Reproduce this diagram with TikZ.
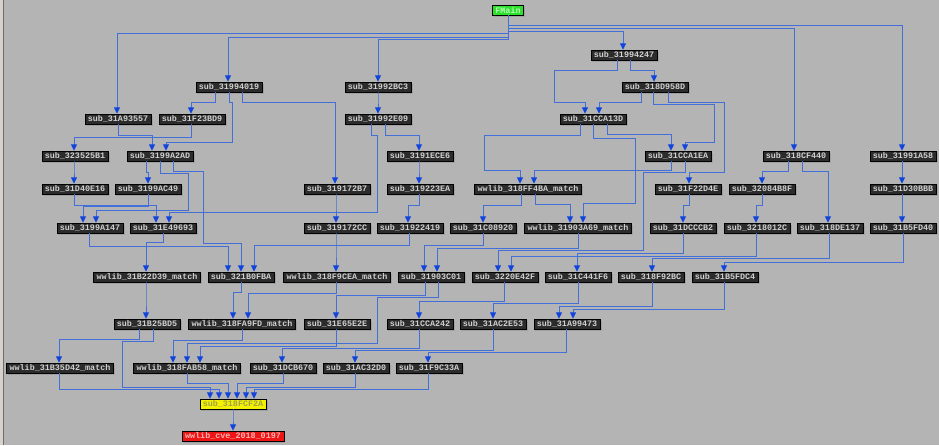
\documentclass[tikz,border=0pt]{standalone}
\usepackage{fontspec}
\setmonofont{Liberation Mono}
\usepackage{xcolor}
\usetikzlibrary{arrows.meta,shadows}

\definecolor{canvas}{HTML}{B4B4B4}
\definecolor{frameside}{HTML}{D6D2CA}
\definecolor{frameline}{HTML}{6E6E6E}
\definecolor{boxfill}{HTML}{2C2C2C}
\definecolor{boxtext}{HTML}{D0D0D0}
\definecolor{wire}{HTML}{4270D8}
\definecolor{tip}{HTML}{1244DC}
\definecolor{mainfill}{HTML}{2EE02E}
\definecolor{maintext}{HTML}{B0FFB0}
\definecolor{sinkfill}{HTML}{F2F200}
\definecolor{sinktext}{HTML}{A0A050}
\definecolor{cvefill}{HTML}{EE1515}
\definecolor{cvetext}{HTML}{FFB4B4}

% edge: source, exit x, channel y, entry x, target
\newcommand{\callto}[5]{\draw[arrow] (#1.south -| #2,0) |- (#4,#3) -- (#5.north -| #4,0);}
% edge with one extra bend
\newcommand{\callvia}[7]{\draw[arrow] (#1.south -| #2,0) |- (#4,#3) |- (#6,#5) -- (#7.north -| #6,0);}

\begin{document}
\begin{tikzpicture}[
x=1pt, y=-1pt,
fn/.style={draw=black, line width=0.5pt, fill=boxfill, text=boxtext, font=\ttfamily\bfseries\fontsize{8.4}{9}\selectfont, inner xsep=3pt, inner ysep=0pt, minimum height=10pt, drop shadow={shadow xshift=1.5pt, shadow yshift=-1.5pt, opacity=0.35}},
arrow/.style={-{Triangle[length=6.5pt,width=6pt,color=tip]}, wire, line width=1pt}
]
\useasboundingbox (0,0) rectangle (939,445);
\fill[canvas] (0,0) rectangle (939,445);
\fill[frameside] (0,0) rectangle (3,445);
\draw[frameline, line width=1pt] (3.5,0) -- (3.5,445);

% nodes, row by row
\node[fn, fill=mainfill, text=maintext] (fmain) at (508,10) {FMain};

\node[fn] (s31994247) at (624,55) {sub\_31994247};

\node[fn] (s31994019) at (229,87) {sub\_31994019};
\node[fn] (s31992BC3) at (378,87) {sub\_31992BC3};
\node[fn] (s318D958D) at (655,87) {sub\_318D958D};

\node[fn] (s31A93557) at (118,119) {sub\_31A93557};
\node[fn] (s31F23BD9) at (192,119) {sub\_31F23BD9};
\node[fn] (s31992E09) at (378,119) {sub\_31992E09};
\node[fn] (s31CCA13D) at (593,119) {sub\_31CCA13D};

\node[fn] (s323525B1) at (75,156) {sub\_323525B1};
\node[fn] (s3199A2AD) at (160,156) {sub\_3199A2AD};
\node[fn] (s3191ECE6) at (420,156) {sub\_3191ECE6};
\node[fn] (s31CCA1EA) at (678,156) {sub\_31CCA1EA};
\node[fn] (s318CF440) at (796,156) {sub\_318CF440};
\node[fn] (s31991A58) at (903,156) {sub\_31991A58};

\node[fn] (s31D40E16) at (75,189) {sub\_31D40E16};
\node[fn] (s3199AC49) at (148,189) {sub\_3199AC49};
\node[fn] (s319172B7) at (337,189) {sub\_319172B7};
\node[fn] (s319223EA) at (420,189) {sub\_319223EA};
\node[fn] (w318FF4BA) at (528,189) {wwlib\_318FF4BA\_match};
\node[fn] (s31F22D4E) at (688,189) {sub\_31F22D4E};
\node[fn] (s32084B8F) at (762,189) {sub\_32084B8F};
\node[fn] (s31D30BBB) at (903,189) {sub\_31D30BBB};

\node[fn] (s3199A147) at (90,228) {sub\_3199A147};
\node[fn] (s31E49693) at (163,228) {sub\_31E49693};
\node[fn] (s319172CC) at (337,228) {sub\_319172CC};
\node[fn] (s31922419) at (410,228) {sub\_31922419};
\node[fn] (s31C08920) at (483,228) {sub\_31C08920};
\node[fn] (w31903A69) at (578,228) {wwlib\_31903A69\_match};
\node[fn] (s31DCCCB2) at (683,228) {sub\_31DCCCB2};
\node[fn] (s3218012C) at (757,228) {sub\_3218012C};
\node[fn] (s318DE137) at (830,228) {sub\_318DE137};
\node[fn] (s31B5FD40) at (903,228) {sub\_31B5FD40};

\node[fn] (w31B22D39) at (147,277) {wwlib\_31B22D39\_match};
\node[fn] (s321B0FBA) at (241,277) {sub\_321B0FBA};
\node[fn] (w318F9CEA) at (337,277) {wwlib\_318F9CEA\_match};
\node[fn] (s31903C01) at (431,277) {sub\_31903C01};
\node[fn] (s3220E42F) at (505,277) {sub\_3220E42F};
\node[fn] (s31C441F6) at (578,277) {sub\_31C441F6};
\node[fn] (s318F92BC) at (651,277) {sub\_318F92BC};
\node[fn] (s31B5FDC4) at (725,277) {sub\_31B5FDC4};

\node[fn] (s31B25BD5) at (147,324) {sub\_31B25BD5};
\node[fn] (w318FA9FD) at (242,324) {wwlib\_318FA9FD\_match};
\node[fn] (s31E65E2E) at (337,324) {sub\_31E65E2E};
\node[fn] (s31CCA242) at (420,324) {sub\_31CCA242};
\node[fn] (s31AC2E53) at (493,324) {sub\_31AC2E53};
\node[fn] (s31A99473) at (567,324) {sub\_31A99473};

\node[fn] (w31B35D42) at (60,368) {wwlib\_31B35D42\_match};
\node[fn] (w318FAB58) at (187,368) {wwlib\_318FAB58\_match};
\node[fn] (s31DCB670) at (283,368) {sub\_31DCB670};
\node[fn] (s31AC32D0) at (356,368) {sub\_31AC32D0};
\node[fn] (s31F9C33A) at (429,368) {sub\_31F9C33A};

\node[fn, fill=sinkfill, text=sinktext] (s318FCF2A) at (233,404) {sub\_318FCF2A};
\node[fn, fill=cvefill, text=cvetext] (wcve) at (233,436) {wwlib\_cve\_2018\_0197};

% calls out of FMain
\callto{fmain}{508}{33}{117}{s31A93557}
\callto{fmain}{508}{37}{228}{s31994019}
\callto{fmain}{508}{39}{378}{s31992BC3}
\callto{fmain}{508}{31}{623}{s31994247}
\callto{fmain}{508}{28}{794}{s318CF440}
\callto{fmain}{508}{25}{902}{s31991A58}

% upper rows
\callvia{s31994247}{617}{70}{554}{102}{585}{s31CCA13D}
\callto{s31994247}{630}{70}{654}{s318D958D}
\callto{s31994019}{215}{102}{191}{s31F23BD9}
\callvia{s31994019}{229}{102}{232}{142}{166}{s3199A2AD}
\callto{s31994019}{242}{102}{335}{s319172B7}
\callto{s31992BC3}{378}{100}{378}{s31992E09}
\callto{s318D958D}{641}{102}{599}{s31CCA13D}
\callvia{s318D958D}{653}{104}{714}{142}{685}{s31CCA1EA}
\callvia{s318D958D}{668}{102}{724}{172}{689}{s31F22D4E}
\callto{s31A93557}{118}{135}{152}{s3199A2AD}
\callto{s31F23BD9}{191}{137}{74}{s323525B1}
\callvia{s31992E09}{371}{135}{377}{212}{169}{s31E49693}
\callto{s31992E09}{385}{135}{419}{s3191ECE6}
\callvia{s31CCA13D}{580}{135}{484}{170}{520}{w318FF4BA}
\callto{s31CCA13D}{607}{134}{671}{s31CCA1EA}
\callvia{s31CCA13D}{593}{138}{635}{203}{583}{w31903A69}

% middle rows
\callto{s323525B1}{74}{170}{74}{s31D40E16}
\callto{s3199A2AD}{146}{172}{148}{s3199AC49}
\callvia{s3199A2AD}{160}{173}{188}{210}{96}{s3199A147}
\callvia{s3199A2AD}{173}{171}{203}{243}{241}{s321B0FBA}
\callto{s3191ECE6}{419}{170}{419}{s319223EA}
\callto{s31CCA1EA}{671}{170}{534}{w318FF4BA}
\callvia{s31CCA1EA}{685}{172}{643}{250}{498}{s3220E42F}
\callto{s318CF440}{788}{171}{762}{s32084B8F}
\callto{s318CF440}{802}{171}{828}{s318DE137}
\callto{s31991A58}{902}{170}{902}{s31D30BBB}
\callto{s31D40E16}{74}{205}{156}{s31E49693}
\callto{s3199AC49}{148}{206}{83}{s3199A147}
\callto{s319172B7}{336}{205}{336}{s319172CC}
\callto{s319223EA}{419}{205}{408}{s31922419}
\callto{w318FF4BA}{521}{205}{483}{s31C08920}
\callto{w318FF4BA}{535}{204}{570}{w31903A69}
\callto{s31F22D4E}{689}{205}{683}{s31DCCCB2}
\callto{s32084B8F}{762}{205}{756}{s3218012C}
\callto{s31D30BBB}{902}{205}{902}{s31B5FD40}

% lower rows
\callto{s3199A147}{89}{246}{228}{s321B0FBA}
\callto{s31E49693}{163}{242}{146}{w31B22D39}
\callto{s319172CC}{336}{250}{336}{w318F9CEA}
\callto{s31922419}{409}{245}{254}{s321B0FBA}
\callto{s31C08920}{483}{245}{424}{s31903C01}
\callto{w31903A69}{578}{248}{437}{s31903C01}
\callto{s31DCCCB2}{683}{253}{577}{s31C441F6}
\callto{s3218012C}{756}{256}{511}{s3220E42F}
\callto{s318DE137}{829}{258}{652}{s318F92BC}
\callto{s31B5FD40}{903}{262}{724}{s31B5FDC4}

\callto{w31B22D39}{146}{300}{146}{s31B25BD5}
\callto{s321B0FBA}{241}{292}{233}{w318FA9FD}
\callto{w318F9CEA}{336}{293}{248}{w318FA9FD}
\callto{s31903C01}{425}{295}{336}{s31E65E2E}
\callvia{s31903C01}{438}{297}{377}{343}{187}{w318FAB58}
\callto{s3220E42F}{504}{301}{419}{s31CCA242}
\callto{s31C441F6}{578}{303}{493}{s31AC2E53}
\callto{s318F92BC}{652}{306}{559}{s31A99473}
\callto{s31B5FDC4}{724}{309}{573}{s31A99473}

\callto{s31B25BD5}{139}{339}{59}{w31B35D42}
\callvia{s31B25BD5}{153}{341}{122}{387}{210}{s318FCF2A}
\callto{w318FA9FD}{242}{340}{173}{w318FAB58}
\callto{s31E65E2E}{336}{346}{200}{w318FAB58}
\callto{s31CCA242}{419}{348}{282}{s31DCB670}
\callto{s31AC2E53}{493}{350}{355}{s31AC32D0}
\callto{s31A99473}{566}{352}{428}{s31F9C33A}

\callto{w31B35D42}{59}{389}{219}{s318FCF2A}
\callto{w318FAB58}{187}{383}{228}{s318FCF2A}
\callto{s31DCB670}{283}{383}{237}{s318FCF2A}
\callto{s31AC32D0}{355}{387}{246}{s318FCF2A}
\callto{s31F9C33A}{428}{389}{254}{s318FCF2A}
\callto{s318FCF2A}{233}{420}{233}{wcve}
\end{tikzpicture}
\end{document}
